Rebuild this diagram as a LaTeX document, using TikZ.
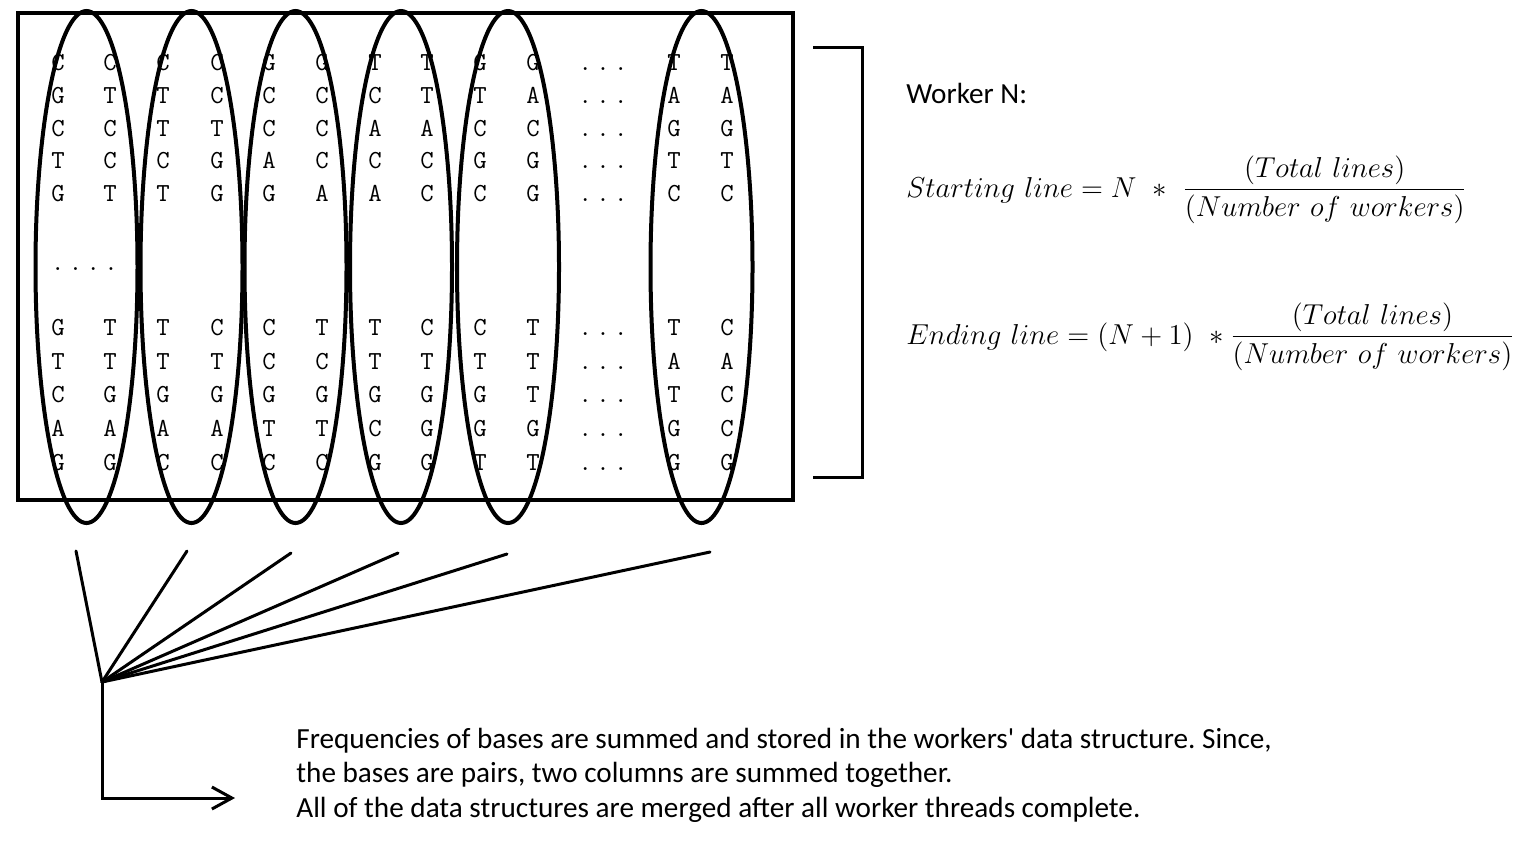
\RequirePackage{fix-cm}
\documentclass[tikz,border=0pt]{standalone}
\usepackage{fontspec}
\newfontfamily\calibri{Carlito}
\usetikzlibrary{arrows.meta}
\frenchspacing
\newcommand\tdots{.\kern2.2pt.\kern2.2pt.}
\newcommand\qdots{.\kern2.2pt.\kern2.2pt.\kern2.2pt.}
\begin{document}
\begin{tikzpicture}[x=0.5pt,y=-0.5pt,
  base/.style={font=\ttfamily\fontsize{13}{15}\selectfont, anchor=base, inner sep=0pt},
  oval/.style={line width=2pt},
  frame/.style={line width=1.75pt},
  fan/.style={line width=1.5pt, line cap=round},
  brk/.style={line width=1.5pt},
  label/.style={font=\calibri\fontsize{14.6}{17}\selectfont, anchor=base west, inner sep=0pt},
  eqn/.style={font=\fontsize{14.4}{18}\selectfont, anchor=base west, inner sep=0pt}]
\useasboundingbox (0,0) rectangle (1534,848);
\draw[frame] (18,13) rectangle (793,500);
% letters
\foreach \row [count=\r] in {
  {C,C,C,C,G,G,T,T,G,G,T,T},
  {G,T,T,C,C,C,C,T,T,A,A,A},
  {C,C,T,T,C,C,A,A,C,C,G,G},
  {T,C,C,G,A,C,C,C,G,G,T,T},
  {G,T,T,G,G,A,A,C,C,G,C,C},
  {G,T,T,C,C,T,T,C,C,T,T,C},
  {T,T,T,T,C,C,T,T,T,T,A,A},
  {C,G,G,G,G,G,G,G,G,T,T,C},
  {A,A,A,A,T,T,C,G,G,G,G,C},
  {G,G,C,C,C,C,G,G,T,T,G,G}} {
  \pgfmathsetmacro\yy{{70,103,136,168,201,335,369,402,436,470}[\r-1]}
  \foreach \ch [count=\c] in \row {
    \pgfmathsetmacro\xx{{58,110,163,217,269,322,375,427,480,533,674,727}[\c-1]}
    \node[base] (b\r-\c) at (\xx,\yy) {\ch};
  }
  \node[base] (d\r) at (603,\yy) {\tdots};
}
\node[base] (vd) at (84.5,270) {\qdots};
% ellipses
\foreach \cx in {86.5,191.5,295.5,401,508,701.5}
  \draw[oval] (\cx,267) ellipse [x radius=25.5pt, y radius=128pt];
% bracket
\draw[brk] (813,47) -- (862,47) -- (862,477) -- (813,477);
% fan
\coordinate (hub) at (102,682);
\coordinate (f1) at (76,551);
\coordinate (f2) at (187,551);
\coordinate (f3) at (291,553);
\coordinate (f4) at (398,553);
\coordinate (f5) at (507,554);
\coordinate (f6) at (710,552);
\foreach \i in {1,...,6} \draw[fan] (hub) -- (f\i);
\coordinate (corner) at (102,798);
\coordinate (tip) at (235,798);
\draw[fan, line cap=butt, -{Straight Barb[length=10pt,width=11pt]}] (hub) -- (corner) -- (tip);
% texts
\node[label] (wn) at (906,103) {Worker N:};
\node[eqn] (eq1) at (906,197) {$\displaystyle Starting\ line = N\ \ast\ \frac{(Total\ lines)}{(Number\ of\ workers)}$};
\node[eqn] (eq2) at (906,344) {$\displaystyle Ending\ line = (N+1)\ \ast\frac{(Total\ lines)}{(Number\ of\ workers)}$};
\node[label] (t1) at (296,748) {Frequencies of bases are summed and stored in the workers' data structure. Since,};
\node[label] (t2) at (296,782.5) {the bases are pairs, two columns are summed together.};
\node[label] (t3) at (296,817) {All of the data structures are merged after all worker threads complete.};
\end{tikzpicture}
\end{document}
